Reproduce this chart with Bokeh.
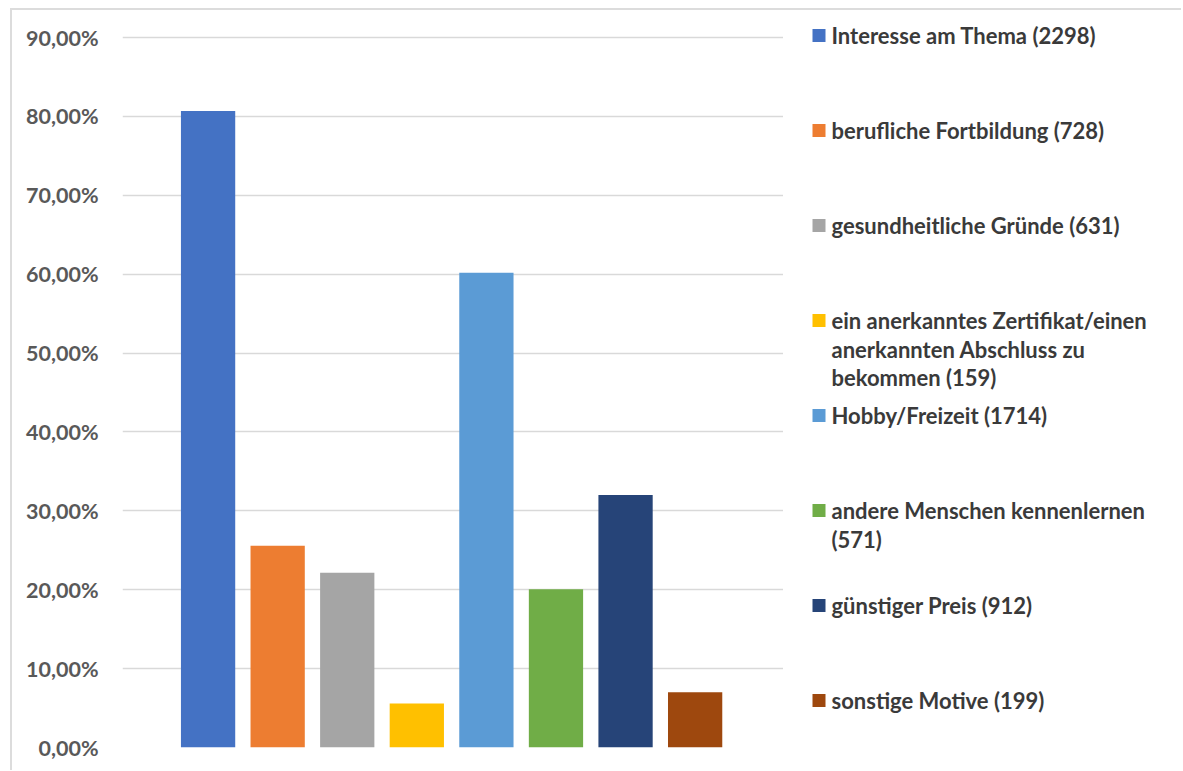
from bokeh.plotting import figure
from bokeh.layouts import row
from bokeh.models import ColumnDataSource, FixedTicker, Range1d
from bokeh.core.properties import value
from bokeh.embed import file_html
from bokeh.resources import INLINE

# Motive für die Teilnahme: Anteil der Befragten in Prozent (Anzahl in Klammern)
labels = [
    "Interesse am Thema (2298)",
    "berufliche Fortbildung (728)",
    "gesundheitliche Gründe (631)",
    "ein anerkanntes Zertifikat/einen\nanerkannten Abschluss zu\nbekommen (159)",
    "Hobby/Freizeit (1714)",
    "andere Menschen kennenlernen\n(571)",
    "günstiger Preis (912)",
    "sonstige Motive (199)",
]
shares = [80.69, 25.56, 22.16, 5.58, 60.18, 20.05, 32.02, 6.99]
colors = ["#4472C4", "#ED7D31", "#A5A5A5", "#FFC000",
          "#5B9BD5", "#70AD47", "#264478", "#9E480E"]

tick_values = [0, 10, 20, 30, 40, 50, 60, 70, 80, 90]
tick_labels = ["0,00%", "10,00%", "20,00%", "30,00%", "40,00%",
               "50,00%", "60,00%", "70,00%", "80,00%", "90,00%"]

FONT = value("Lato")
AXIS_GREY = "#595959"
TEXT_DARK = "#3a3a3a"
GRID = "#d9d9d9"

# Seitenlayout in Pixeln (Rahmen beginnt bei x=10, y=8)
PAGE_TOP = 10          # Oberkante der Zeichenflächen
FRAME_BOTTOM = 747     # Nulllinie
TOP_GRID = 37          # Lage der 90-%-Linie
y_end = tick_values[-1] * (FRAME_BOTTOM - PAGE_TOP) / (FRAME_BOTTOM - TOP_GRID)

# --- Säulendiagramm -------------------------------------------------------
positions = list(range(1, len(shares) + 1))
bars = ColumnDataSource(dict(x=positions, share=shares, color=colors))

p = figure(
    width=771, height=760,
    x_range=Range1d(-0.23, 9.27), y_range=Range1d(0, y_end),
    x_axis_location=None,
    output_backend="svg", toolbar_location=None,
    min_border_left=110, min_border_right=0,
    min_border_top=0, min_border_bottom=23,
)
p.outline_line_color = None
p.background_fill_color = "white"
p.border_fill_color = "white"

p.vbar(x="x", top="share", bottom=0, width=0.78, color="color",
       line_color=None, source=bars)

ax = p.yaxis[0]
ax.ticker = FixedTicker(ticks=tick_values)
ax.major_label_overrides = {v: t for v, t in zip(tick_values, tick_labels)}
ax.axis_line_color = None
ax.major_tick_line_color = None
ax.minor_tick_line_color = None
ax.major_tick_out = 0
ax.major_tick_in = 0
ax.major_label_standoff = 24
ax.major_label_text_font = "Lato"
ax.major_label_text_font_style = "bold"
ax.major_label_text_font_size = "21.5px"
ax.major_label_text_color = AXIS_GREY

p.xgrid.visible = False
p.ygrid.ticker = FixedTicker(ticks=tick_values)
p.ygrid.grid_line_color = GRID
p.ygrid.grid_line_width = 1.5

# --- Legende (Koordinaten = Seitenpixel) -----------------------------------
leg = figure(
    width=398, height=760,
    x_range=Range1d(783, 1181), y_range=Range1d(FRAME_BOTTOM, PAGE_TOP),
    x_axis_location=None, y_axis_location=None,
    output_backend="svg", toolbar_location=None,
    min_border_left=0, min_border_right=0,
    min_border_top=0, min_border_bottom=23,
)
leg.outline_line_color = None
leg.grid.visible = False
leg.border_fill_color = "white"

SLOT = 95
FIRST = 35
LINE = 28.5
mx, my, mc = [], [], []
tx, ty, tt = [], [], []
for i, (lab, col) in enumerate(zip(labels, colors)):
    top = FIRST + SLOT * i
    mx.append(818.5)
    my.append(top)
    mc.append(col)
    for j, part in enumerate(lab.split("\n")):
        tx.append(831)
        ty.append(top + LINE * j)
        tt.append(part)

leg.scatter(x=mx, y=my, marker="square", size=13, color=mc, line_color=None)
leg.text(x=tx, y=ty, text=tt, text_font=FONT, text_font_style="bold",
         text_font_size="22px", text_color=TEXT_DARK, text_baseline="middle",
         text_align="left")

layout = row(
    p, leg,
    styles={
        "margin-left": "10px",
        "margin-top": "8px",
        "border-left": "2px solid #dcdcdc",
        "border-top": "2px solid #dcdcdc",
    },
)

open("out.html", "w").write(file_html(layout, INLINE))
